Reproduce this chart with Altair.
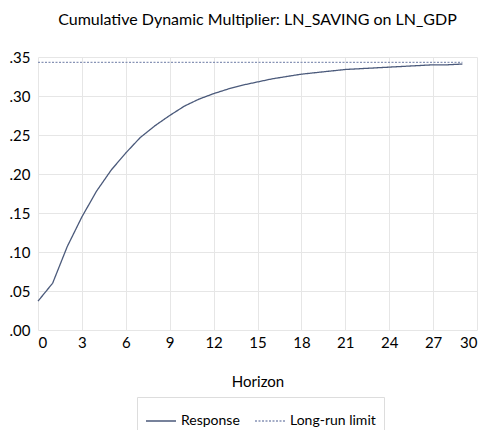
import altair as alt
import pandas as pd

horizon = list(range(30))
response = [0.037, 0.060, 0.107, 0.145, 0.178, 0.205, 0.227, 0.247, 0.262, 0.275,
            0.287, 0.296, 0.303, 0.309, 0.314, 0.318, 0.322, 0.325, 0.328, 0.330,
            0.332, 0.334, 0.335, 0.336, 0.337, 0.338, 0.339, 0.340, 0.340, 0.341]
long_run = 0.343
series_names = ["Response", "Long-run limit"]

rows = []
for h, r in zip(horizon, response):
    rows.append({"Horizon": h, "value": r, "series": series_names[0]})
for h in horizon:
    rows.append({"Horizon": h, "value": long_run, "series": series_names[1]})
df = pd.DataFrame(rows)

FONT = "Lato"

chart = alt.Chart(df).mark_line(strokeWidth=1.3).encode(
    x=alt.X("Horizon:Q", scale=alt.Scale(domain=[0, 30], nice=False),
            axis=alt.Axis(values=list(range(0, 31, 3)), title="Horizon", grid=True,
                          domain=False, ticks=False, labelPadding=5, titlePadding=24)),
    y=alt.Y("value:Q", scale=alt.Scale(domain=[0, 0.35], nice=False),
            axis=alt.Axis(values=[0, 0.05, 0.10, 0.15, 0.20, 0.25, 0.30, 0.35],
                          labelExpr="substring(format(datum.value, '.2f'), 1)",
                          title=None, domain=False, ticks=False, labelPadding=8)),
    color=alt.Color("series:N", scale=alt.Scale(domain=series_names, range=["#4b5a7b", "#8793b5"]),
                    legend=alt.Legend(title=None, orient="none", legendX=99, legendY=340,
                                      direction="horizontal", columns=2,
                                      strokeColor="#dddddd", padding=8,
                                      symbolType="stroke", symbolSize=900, symbolStrokeWidth=1.5,
                                      labelFontSize=14, labelFont=FONT, labelColor="#000000",
                                      columnPadding=12)),
    strokeDash=alt.StrokeDash("series:N", scale=alt.Scale(domain=series_names, range=[[1, 0], [2, 1.5]]),
                              legend=None),
).properties(
    width=439, height=273,
    autosize=alt.AutoSizeParams(type="none"),
    padding={"left": 38, "top": 57, "right": 13, "bottom": 100},
    title=alt.TitleParams("Cumulative Dynamic Multiplier: LN_SAVING on LN_GDP",
                          font=FONT, fontSize=16, fontWeight="normal", color="#000000",
                          anchor="middle", offset=22),
).configure_axis(
    labelFont=FONT, labelFontSize=15, labelColor="#000000",
    titleFont=FONT, titleFontSize=15, titleFontWeight="normal", titleColor="#000000",
    gridColor="#e6e6e6", gridWidth=1,
).configure_view(stroke=None)

chart.save("out.html", embed_options={"renderer": "svg", "actions": False})
